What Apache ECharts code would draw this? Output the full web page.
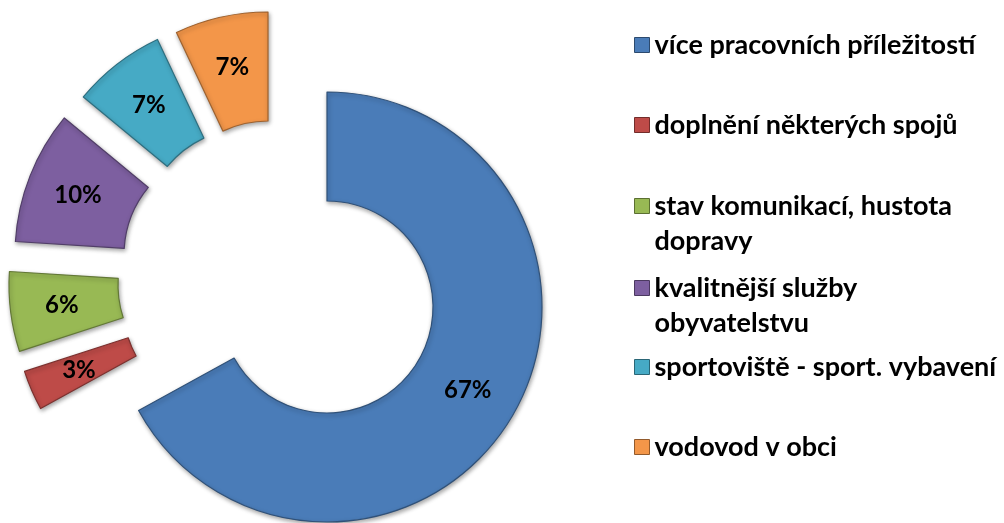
<!DOCTYPE html>
<html>
<head>
<meta charset="utf-8">
<script src="https://cdn.jsdelivr.net/npm/echarts@6/dist/echarts.min.js"></script>
<style>
html,body{margin:0;padding:0;background:#fff;}
#chart{width:1004px;height:523px;}
</style>
</head>
<body>
<div id="chart"></div>
<script>
// ---- data ----
var categories = ['více pracovních příležitostí', 'doplnění některých spojů', 'stav komunikací, hustota\ndopravy', 'kvalitnější služby\nobyvatelstvu', 'sportoviště - sport. vybavení', 'vodovod v obci'];
var values = [67, 3, 6, 10, 7, 7];
var colors = ['#4A7CB8', '#BE4B48', '#98B954', '#7D5FA0', '#46AAC5', '#F39649'];

// ---- layout (exploded slice centres, px) ----
var centers = [[327, 307], [229, 305], [224, 285], [230, 255], [249, 234], [268, 227]];
var legendIconY = [45, 125, 206, 288, 367, 447];

var total = values.reduce(function (a, b) { return a + b; }, 0);
var FONT = 'Lato';
var LH = 35;

function darker(hex, f) {
  var n = parseInt(hex.slice(1), 16);
  var r = Math.round(((n >> 16) & 255) * f), g = Math.round(((n >> 8) & 255) * f), b = Math.round((n & 255) * f);
  return 'rgb(' + r + ',' + g + ',' + b + ')';
}

var series = [];
var cum = 0;
for (var i = 0; i < values.length; i++) {
  var c = colors[i];
  series.push({
    type: 'pie',
    name: 'slice' + i,
    center: centers[i],
    radius: [106, 215],
    startAngle: 90 - cum / total * 360,
    clockwise: true,
    avoidLabelOverlap: false,
    silent: true,
    animation: false,
    labelLine: { show: false },
    data: [
      {
        name: categories[i], value: values[i],
        itemStyle: {
          color: c,
          borderColor: darker(c, 0.65), borderWidth: 1.2,
          shadowBlur: 4, shadowColor: 'rgba(0,0,0,0.35)', shadowOffsetX: 1, shadowOffsetY: 2
        },
        label: {
          show: true, position: 'inside', formatter: '{c}%',
          color: '#000', fontFamily: FONT, fontWeight: 'bold', fontSize: 24
        }
      },
      {
        name: 'gap' + i, value: total - values[i],
        itemStyle: { color: 'rgba(0,0,0,0)', borderWidth: 0 },
        label: { show: false }
      }
    ]
  });
  cum += values[i];
}

var legends = [];
for (var j = 0; j < categories.length; j++) {
  var twoLine = categories[j].indexOf('\n') >= 0;
  var legTop = twoLine ? legendIconY[j] - 1.5 * LH : legendIconY[j] - LH / 2;
  legends.push({
    orient: 'vertical',
    left: 634,
    top: legTop,
    padding: 0,
    itemWidth: 15,
    itemHeight: 15,
    itemGap: 0,
    icon: 'rect',
    selectedMode: false,
    formatter: twoLine ? function (name) { return '\u00a0\n' + name; } : '{name}',
    data: [{ name: categories[j], itemStyle: { borderColor: darker(colors[j], 0.6), borderWidth: 1 } }],
    textStyle: {
      fontFamily: FONT, fontWeight: 'bold', fontSize: 27, color: '#000',
      lineHeight: LH
    }
  });
}

var chart = echarts.init(document.getElementById('chart'), null, { renderer: 'canvas' });
chart.setOption({
  backgroundColor: '#fff',
  animation: false,
  legend: legends,
  series: series
});
</script>
</body>
</html>
